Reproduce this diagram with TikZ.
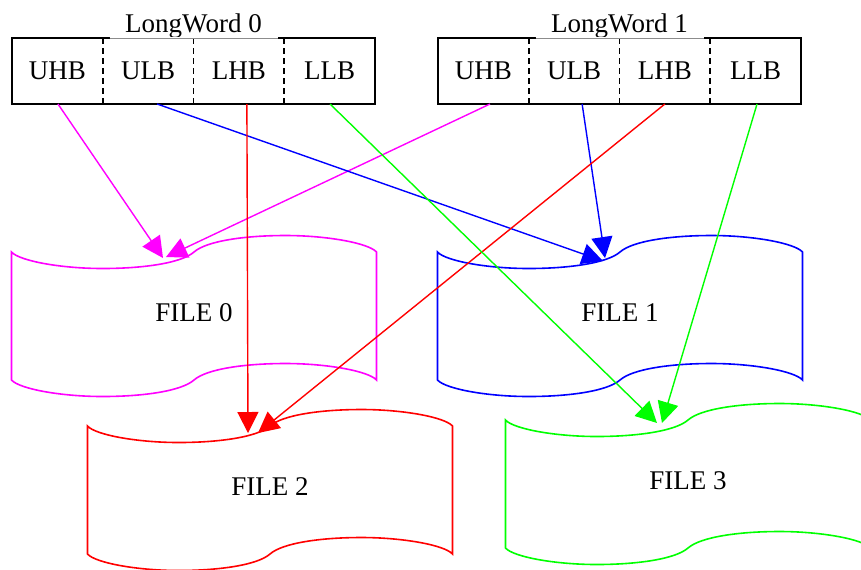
\documentclass[tikz,border=0pt]{standalone}
\usepackage{fontspec}
\setmainfont{Liberation Serif}
\usetikzlibrary{positioning,arrows.meta}

\definecolor{gvmagenta}{RGB}{255,0,255}
\definecolor{gvblue}{RGB}{0,0,255}
\definecolor{gvred}{RGB}{255,0,0}
\definecolor{gvgreen}{RGB}{0,255,0}

\tikzset{
  cell/.style={minimum width=45.375pt, minimum height=33pt, inner sep=0pt, outer sep=0pt},
  divider/.style={line width=0.95pt, dash pattern=on 3pt off 2pt},
  lwlabel/.style={inner sep=0pt, outer sep=0pt},
  tape/.style={minimum width=182.5pt, minimum height=64pt, inner sep=0pt, outer sep=0pt, text depth=3pt},
  tapeline/.style={line width=0.8pt},
  link/.style={-{Triangle[length=10.5pt,width=10.5pt]}, line width=0.7pt}
}

% wavy tape outline around a tape node
\newcommand\tapeoutline[2]{%
  \draw[#2, tapeline, shift={(#1.north west)}]
    (0,0) .. controls (8,9) and (50,16.5) .. (91,16.5)
    .. controls (132,16.5) and (170,11) .. (182.5,0)
    .. controls (195,-11) and (233,-16.5) .. (274,-16.5)
    .. controls (315,-16.5) and (357,-9) .. (365,0)
    -- (365,128)
    .. controls (357,119) and (315,111.5) .. (274,111.5)
    .. controls (233,111.5) and (195,117) .. (182.5,128)
    .. controls (170,139) and (132,144.5) .. (91,144.5)
    .. controls (50,144.5) and (8,137) .. (0,128) -- cycle;}

\begin{document}
\begin{tikzpicture}[x=0.5pt,y=-0.5pt,font=\fontsize{13.5}{16}\selectfont]
	\useasboundingbox (0,0) rectangle (861,569);

	% the two long words
	\foreach \w/\x in {0/57.375, 1/483.375} {
		\node[cell] (lw\w uhb) at (\x,71) {UHB};
		\node[cell, right=0pt of lw\w uhb] (lw\w ulb) {ULB};
		\node[cell, right=0pt of lw\w ulb] (lw\w lhb) {LHB};
		\node[cell, right=0pt of lw\w lhb] (lw\w llb) {LLB};
		\draw[line width=0.95pt] (lw\w uhb.north west) rectangle (lw\w llb.south east);
		\foreach \c in {ulb,lhb,llb}
			\draw[divider] (lw\w\c.north west) -- (lw\w\c.south west);
		\node[lwlabel, above=0pt of lw\w ulb.north east] (lw\w lbl) {LongWord \w};
		\draw[white, line width=1.4pt] ([xshift=-42pt]lw\w lbl.south) -- ([xshift=42pt]lw\w lbl.south);
		\draw[black!45, line width=0.45pt] ([xshift=-42pt]lw\w lbl.south) -- ([xshift=42pt]lw\w lbl.south);
	}

	% the four files
	\node[tape] (file0) at (194,316) {FILE 0};
	\node[tape] (file1) at (620,316) {FILE 1};
	\node[tape] (file2) at (270,490) {FILE 2};
	\node[tape] (file3) at (688,484) {FILE 3};
	\tapeoutline{file0}{gvmagenta}
	\tapeoutline{file1}{gvblue}
	\tapeoutline{file2}{gvred}
	\tapeoutline{file3}{gvgreen}

	\coordinate (f0a) at ([shift={(151.5,6)}]file0.north west);
	\coordinate (f0b) at ([shift={(154.5,5)}]file0.north west);
	\coordinate (f1a) at ([shift={(165.5,9)}]file1.north west);
	\coordinate (f1b) at ([shift={(167.5,6)}]file1.north west);
	\coordinate (f2a) at ([shift={(160.5,7)}]file2.north west);
	\coordinate (f2b) at ([shift={(170.5,7)}]file2.north west);
	\coordinate (f3a) at ([shift={(151.5,3)}]file3.north west);
	\coordinate (f3b) at ([shift={(156.5,3)}]file3.north west);

	% byte lanes
	\draw[link, gvmagenta] ([xshift=0.3pt]lw0uhb.south) -- (f0a);
	\draw[link, gvmagenta] ([xshift=3.3pt]lw1uhb.south) -- (f0b);
	\draw[link, gvblue] ([xshift=4.5pt]lw0ulb.south) -- (f1a);
	\draw[link, gvblue] ([xshift=4pt]lw1ulb.south) -- (f1b);
	\draw[link, gvred] ([xshift=4pt]lw0lhb.south) -- (f2a);
	\draw[link, gvred] (lw1lhb.south) -- (f2b);
	\draw[link, gvgreen] ([xshift=0.2pt]lw0llb.south) -- (f3a);
	\draw[link, gvgreen] ([xshift=0.7pt]lw1llb.south) -- (f3b);
\end{tikzpicture}
\end{document}
